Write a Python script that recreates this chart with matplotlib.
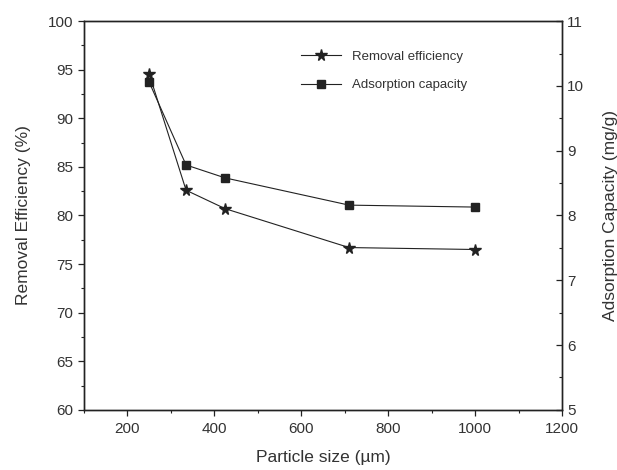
import matplotlib.pyplot as plt
from matplotlib.ticker import MultipleLocator

plt.rcParams['font.family'] = ['Liberation Sans', 'DejaVu Sans']

particle_size = [250, 335, 425, 710, 1000]
removal_eff = [94.6, 82.6, 80.7, 76.7, 76.5]
adsorption_cap = [10.06, 8.78, 8.58, 8.16, 8.13]

ink = '#222222'
txt = '#333333'

fig = plt.figure(figsize=(6.17, 4.70), dpi=100)
ax = fig.add_axes([0.136, 0.128, 0.775, 0.827])
ax2 = ax.twinx()

l1, = ax.plot(particle_size, removal_eff, color=ink, lw=0.8, marker='*',
              markersize=8.5, label='Removal efficiency')
l2, = ax2.plot(particle_size, adsorption_cap, color=ink, lw=0.8, marker='s',
               markersize=6, label='Adsorption capacity')

ax.set_xlim(100, 1200)
ax.set_ylim(60, 100)
ax2.set_ylim(5, 11)

ax.xaxis.set_major_locator(MultipleLocator(200))
ax.xaxis.set_minor_locator(MultipleLocator(100))
ax.yaxis.set_major_locator(MultipleLocator(5))
ax.yaxis.set_minor_locator(MultipleLocator(2.5))
ax2.yaxis.set_major_locator(MultipleLocator(1))
ax2.yaxis.set_minor_locator(MultipleLocator(0.5))

ax.tick_params(which='major', direction='out', length=4, width=0.9,
               labelsize=11, colors=ink, labelcolor=txt)
ax.tick_params(which='minor', direction='out', length=2.5, width=0.8, colors=ink)
ax.tick_params(axis='x', which='major', pad=5)
ax2.tick_params(which='major', direction='in', length=4, width=0.9,
                labelsize=11, colors=ink, labelcolor=txt)
ax2.tick_params(which='minor', direction='in', length=2.5, width=0.8, colors=ink)

for a in (ax, ax2):
    for s in a.spines.values():
        s.set_linewidth(1.0)
        s.set_color(ink)

ax.set_xlabel('Particle size (\u00b5m)', fontsize=12.5, color=txt, labelpad=10)
ax.set_ylabel('Removal Efficiency (%)', fontsize=12.5, color=txt, labelpad=12)
ax2.set_ylabel('Adsorption Capacity (mg/g)', fontsize=12.5, color=txt, labelpad=14)

leg = ax.legend(handles=[l1, l2], frameon=False, loc='upper left',
                bbox_to_anchor=(0.43, 0.955), fontsize=9.5, labelcolor=txt,
                handlelength=3.0, labelspacing=1.25, handletextpad=0.8)

fig.savefig('out.png', dpi=100)
